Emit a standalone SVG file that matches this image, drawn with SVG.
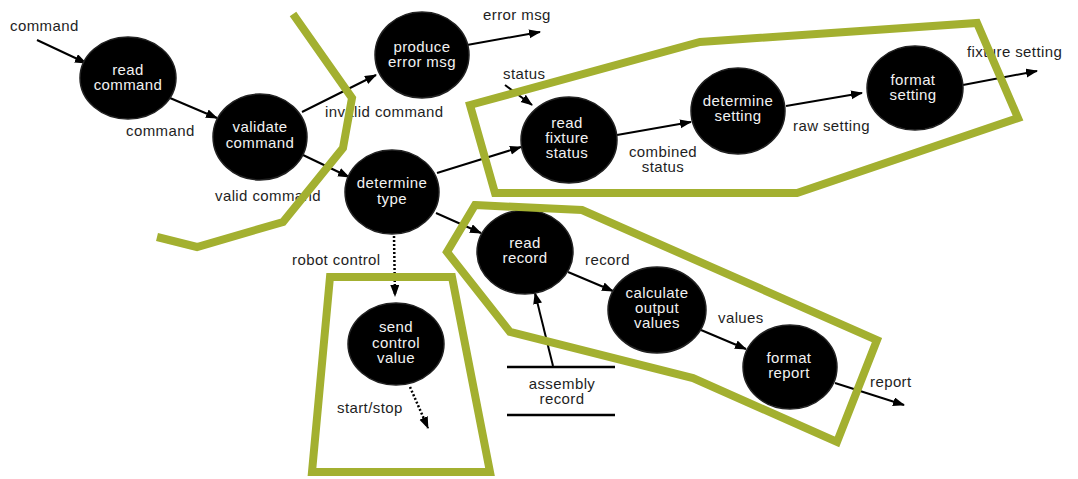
<svg xmlns="http://www.w3.org/2000/svg" width="1078" height="479" viewBox="0 0 1078 479">
<style>
.node ellipse{fill:#000;stroke:#222;stroke-width:1.5}
.node text{fill:#f2f2f2;font-family:"Liberation Sans",Arial,sans-serif;font-size:15px;letter-spacing:0.4px;text-anchor:middle}
.lbl{fill:#1e1e1e;font-family:"Liberation Sans",Arial,sans-serif;font-size:15px;letter-spacing:0.4px}
.c{stroke:#000;stroke-width:2;fill:none;marker-end:url(#ah)}
.d{stroke:#000;stroke-width:2.5;fill:none;stroke-dasharray:2 2;marker-end:url(#ah)}
.store{stroke:#000;stroke-width:2.5}
.bound{fill:none;stroke:#a3b030;stroke-width:8;stroke-linejoin:miter}
</style>
<defs>
<marker id="ah" markerUnits="userSpaceOnUse" markerWidth="12" markerHeight="10" refX="11" refY="4.5" orient="auto">
<path d="M0,0 L12,4.5 L0,9 z" fill="#000"/>
</marker>
</defs>
<rect width="1078" height="479" fill="#fff"/>
<g id="connectors">
<line class="c" x1="37" y1="40" x2="86" y2="63"/>
<line class="c" x1="170" y1="98" x2="217" y2="118"/>
<line class="c" x1="302" y1="112" x2="376" y2="75"/>
<line class="c" x1="303" y1="155" x2="349" y2="177"/>
<line class="c" x1="467" y1="45" x2="540" y2="32"/>
<line class="c" x1="505" y1="85" x2="532" y2="105"/>
<line class="c" x1="437" y1="173" x2="521" y2="147"/>
<line class="c" x1="617" y1="135" x2="691" y2="122"/>
<line class="c" x1="786" y1="106" x2="862" y2="93"/>
<line class="c" x1="963" y1="85" x2="1037" y2="71"/>
<line class="c" x1="436" y1="213" x2="481" y2="233"/>
<line class="c" x1="568" y1="272" x2="613" y2="291"/>
<line class="c" x1="701" y1="330" x2="746" y2="349"/>
<line class="c" x1="835" y1="383" x2="904" y2="405"/>
<line class="c" x1="553" y1="366" x2="535" y2="293"/>
<line class="d" x1="394" y1="236" x2="395" y2="296"/>
<line class="d" x1="410" y1="387" x2="428" y2="428"/>
</g>
<g id="assembly-record">
<line class="store" x1="507" y1="367" x2="615" y2="367"/>
<line class="store" x1="507" y1="415" x2="615" y2="415"/>
<text class="lbl" x="562" y="389" text-anchor="middle">assembly</text>
<text class="lbl" x="562" y="404" text-anchor="middle">record</text>
</g>
<g id="read-command" class="node">
<ellipse cx="128" cy="78" rx="48" ry="41"/>
<text x="128" y="75">read</text><text x="128" y="90">command</text>
</g>
<g id="validate-command" class="node">
<ellipse cx="260" cy="137" rx="47" ry="43"/>
<text x="260" y="132">validate</text><text x="260" y="148">command</text>
</g>
<g id="produce-error-msg" class="node">
<ellipse cx="422" cy="55" rx="47" ry="43"/>
<text x="422" y="52">produce</text><text x="422" y="67">error msg</text>
</g>
<g id="determine-type" class="node">
<ellipse cx="392" cy="192" rx="47" ry="42"/>
<text x="392" y="188">determine</text><text x="392" y="204">type</text>
</g>
<g id="read-fixture-status" class="node">
<ellipse cx="569" cy="140" rx="48" ry="43"/>
<text x="567" y="128">read</text><text x="567" y="143">fixture</text><text x="567" y="158">status</text>
</g>
<g id="determine-setting" class="node">
<ellipse cx="738" cy="111" rx="47" ry="43"/>
<text x="738" y="106">determine</text><text x="738" y="121">setting</text>
</g>
<g id="format-setting" class="node">
<ellipse cx="915" cy="88" rx="48" ry="42"/>
<text x="913" y="85">format</text><text x="913" y="100">setting</text>
</g>
<g id="read-record" class="node">
<ellipse cx="525" cy="252" rx="48" ry="42"/>
<text x="525" y="248">read</text><text x="525" y="263">record</text>
</g>
<g id="calculate-output-values" class="node">
<ellipse cx="657" cy="310" rx="49" ry="43"/>
<text x="657" y="298">calculate</text><text x="657" y="313">output</text><text x="657" y="328">values</text>
</g>
<g id="format-report" class="node">
<ellipse cx="790" cy="367" rx="47" ry="42"/>
<text x="789" y="363">format</text><text x="789" y="378">report</text>
</g>
<g id="send-control-value" class="node">
<ellipse cx="396" cy="344" rx="48" ry="41"/>
<text x="396" y="332">send</text><text x="396" y="348">control</text><text x="396" y="363">value</text>
</g>
<g id="labels">
<text class="lbl" x="10" y="31">command</text>
<text class="lbl" x="126" y="136">command</text>
<text class="lbl" x="215" y="201">valid command</text>
<text class="lbl" x="325" y="117">invalid command</text>
<text class="lbl" x="483" y="20">error msg</text>
<text class="lbl" x="503" y="79">status</text>
<text class="lbl" x="663" y="157" text-anchor="middle">combined</text>
<text class="lbl" x="663" y="172" text-anchor="middle">status</text>
<text class="lbl" x="793" y="131">raw setting</text>
<text class="lbl" x="967" y="57">fixture setting</text>
<text class="lbl" x="292" y="265">robot control</text>
<text class="lbl" x="337" y="413">start/stop</text>
<text class="lbl" x="585" y="265">record</text>
<text class="lbl" x="718" y="323">values</text>
<text class="lbl" x="870" y="387">report</text>
</g>
<g id="boundaries">
<polyline class="bound" points="293,14 352,98 343,148 283,222 197,247 157,237"/>
<polygon class="bound" points="470,105 700,42 977,23 1018,118 797,193 495,193"/>
<polygon class="bound" points="475,205 582,210 877,340 837,442 693,378 510,332 447,252"/>
<polygon class="bound" points="330,277 452,277 490,472 312,472"/>
</g>
</svg>
